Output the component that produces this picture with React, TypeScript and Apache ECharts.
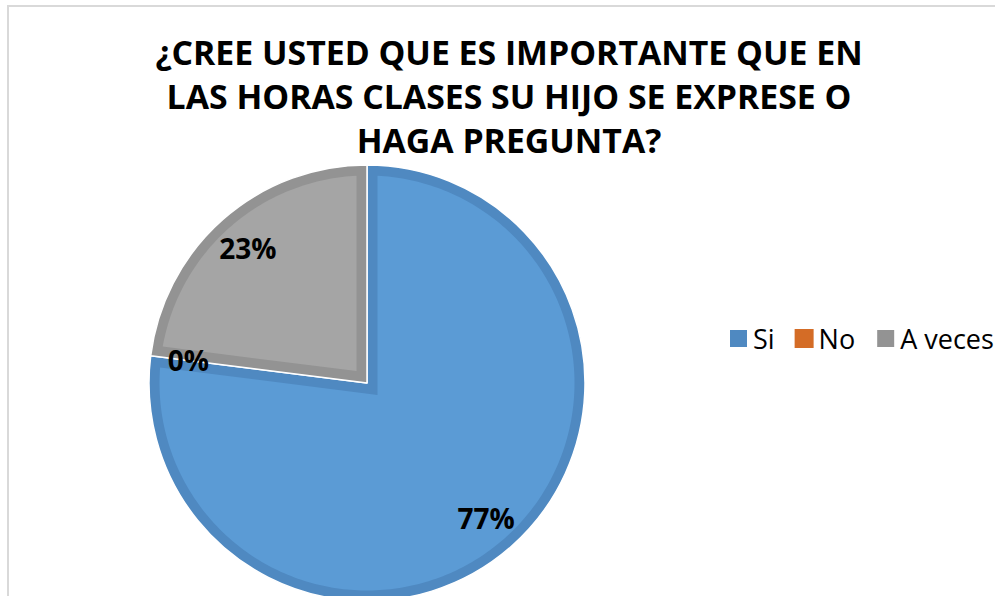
import React, { useEffect, useRef } from "react";
import * as echarts from "echarts";

const categories = ["Si", "No", "A veces"];
const percentages = [77, 0, 23];
const titleLines = [
  "¿CREE USTED QUE ES IMPORTANTE QUE EN",
  "LAS HORAS CLASES SU HIJO SE EXPRESE O",
  "HAGA PREGUNTA?",
];
const fillColors = ["#5b9bd5", "#ed7d31", "#a5a5a5"];
const edgeColors = ["#4f89c1", "#d46c26", "#939393"];

const CX = 367;
const CY = 383;
const R = 218;
const INSET = 10.5;

function insetSlice(params: any, api: any) {
  const i = params.dataIndex;
  const v = api.value(0);
  const total = percentages.reduce((a, b) => a + b, 0);
  if (!v || !total) return { type: "group", children: [] };
  let cum = 0;
  for (let k = 0; k < i; k++) cum += percentages[k];
  const s = Math.PI / 2 - (2 * Math.PI * cum) / total;
  const e = s - (2 * Math.PI * v) / total;
  const n1 = [Math.sin(s), -Math.cos(s)];
  const n2 = [-Math.sin(e), Math.cos(e)];
  const det = n1[0] * n2[1] - n1[1] * n2[0];
  const px = (INSET * n2[1] - n1[1] * INSET) / det;
  const py = (n1[0] * INSET - INSET * n2[0]) / det;
  const rr = R - INSET;
  const L = Math.sqrt(rr * rr - INSET * INSET);
  const delta = Math.asin(INSET / rr);
  const pts: number[][] = [[px, py]];
  pts.push([INSET * n1[0] + L * Math.cos(s), INSET * n1[1] + L * Math.sin(s)]);
  const a0 = s - delta;
  const a1 = e + delta;
  const steps = Math.max(2, Math.ceil((a0 - a1) / (Math.PI / 180)));
  for (let k = 0; k <= steps; k++) {
    const a = a0 - ((a0 - a1) * k) / steps;
    pts.push([rr * Math.cos(a), rr * Math.sin(a)]);
  }
  pts.push([INSET * n2[0] + L * Math.cos(e), INSET * n2[1] + L * Math.sin(e)]);
  return {
    type: "polygon",
    shape: { points: pts.map(([x, y]) => [CX + x, CY - y]) },
    style: { fill: fillColors[i] },
    silent: true,
  };
}

export default function App() {
  const ref = useRef<HTMLDivElement>(null);
  useEffect(() => {
    if (!ref.current) return;
    const chart = echarts.init(ref.current, undefined, { renderer: "svg" });
    chart.setOption({
      animation: false,
      backgroundColor: "#ffffff",
      title: {
        text: titleLines.join("\n"),
        left: 509,
        top: 30,
        textAlign: "center",
        padding: 0,
        textStyle: {
          fontFamily: "Open Sans",
          fontWeight: "bold",
          fontSize: 33.8,
          lineHeight: 44,
          color: "#000000",
        },
      },
      legend: {
        data: categories,
        left: 728,
        top: 325,
        orient: "horizontal",
        icon: "rect",
        itemWidth: 19,
        itemHeight: 19,
        itemGap: 20,
        padding: 0,
        selectedMode: false,
        textStyle: {
          fontFamily: "Open Sans",
          fontSize: 27,
          lineHeight: 27,
          color: "#000000",
        },
      },
      graphic: [
        {
          type: "rect",
          shape: { x: 8, y: 6, width: 1400, height: 1000 },
          style: { fill: "none", stroke: "#d9d9d9", lineWidth: 2 },
          silent: true,
          z: -1,
        },
      ],
      series: [
        {
          type: "pie",
          center: [CX, CY],
          radius: R,
          startAngle: 90,
          clockwise: true,
          stillShowZeroSum: true,
          avoidLabelOverlap: false,
          silent: true,
          emphasis: { disabled: true },
          label: { show: false },
          labelLine: { show: false },
          data: categories.map((name, i) => ({
            name,
            value: percentages[i],
            itemStyle: {
              color: edgeColors[i],
              borderColor: "#ffffff",
              borderWidth: percentages[i] ? 1.5 : 0,
            },
          })),
        },
        {
          type: "custom",
          coordinateSystem: "none",
          renderItem: insetSlice,
          data: percentages,
          silent: true,
          z: 3,
        },
        {
          type: "pie",
          center: [CX, CY],
          radius: [R - 82, R],
          startAngle: 90,
          clockwise: true,
          avoidLabelOverlap: false,
          silent: true,
          z: 5,
          emphasis: { disabled: true },
          itemStyle: { color: "rgba(0,0,0,0)", borderWidth: 0 },
          labelLine: { show: false },
          label: {
            show: true,
            position: "inside",
            formatter: (p: any) => `${p.value}%`,
            fontFamily: "Open Sans",
            fontWeight: "bold",
            fontSize: 28,
            color: "#000000",
          },
          data: categories.map((name, i) => ({ name, value: percentages[i] })),
        },
      ],
    });
    return () => chart.dispose();
  }, []);
  return (
    <div
      ref={ref}
      style={{ position: "fixed", left: 0, top: 0, width: 995, height: 596 }}
    />
  );
}
